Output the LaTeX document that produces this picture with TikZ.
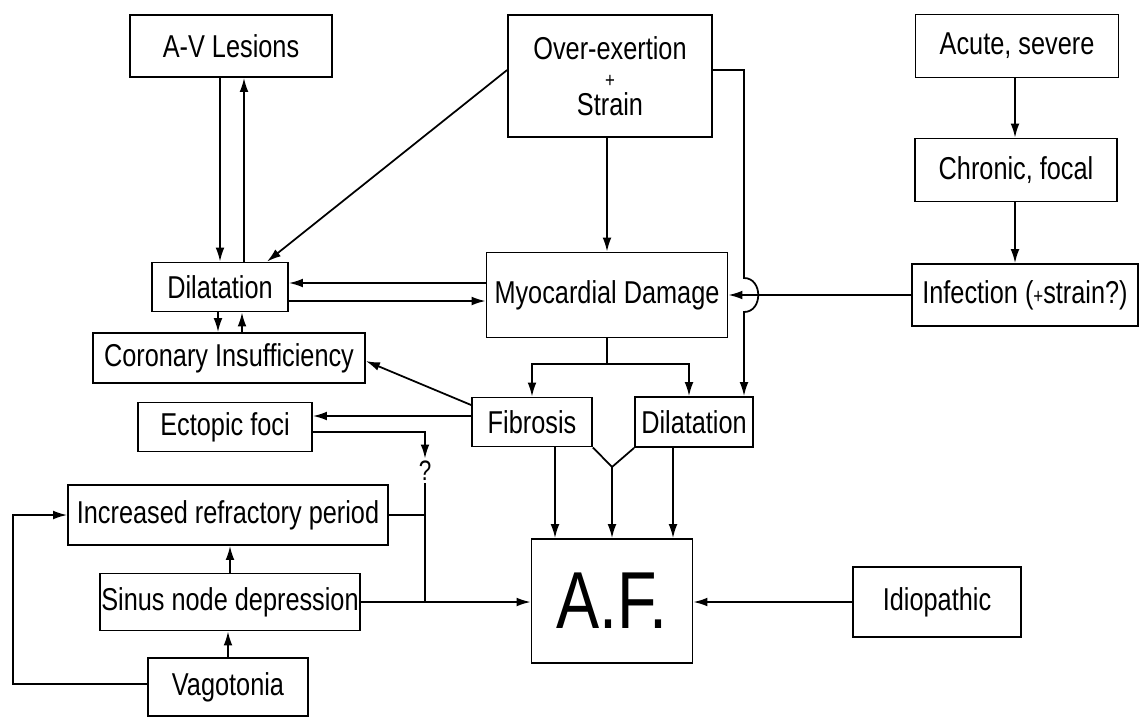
\documentclass[tikz,border=0pt]{standalone}
\usepackage{fontspec}
\setmainfont{Liberation Sans}[FakeStretch=0.8]
\usetikzlibrary{arrows.meta}

\begin{document}
\begin{tikzpicture}[x=0.02cm,y=-0.02cm,
  line width=1pt, >={Latex[length=8pt,width=5pt]},
  box/.style={draw, inner sep=0pt, align=center, font=\fontsize{18}{16}\selectfont}]
\useasboundingbox (0,0) rectangle (1141,718);

% causes on top
\node[box, minimum width=4.04cm, minimum height=1.24cm] (av) at (231,46) {A-V Lesions};
\node[box, minimum width=4.08cm, minimum height=2.44cm] (over) at (610,76) {Over-exertion\\{\fontsize{12}{12}\selectfont +}\\Strain};
\node[box, minimum width=4.06cm, minimum height=1.26cm] (acute) at (1017,46) {Acute, severe};
\node[box, minimum width=4.04cm, minimum height=1.26cm] (chronic) at (1016,170) {Chronic, focal};
\node[box, minimum width=4.52cm, minimum height=1.24cm] (infect) at (1025,295) {Infection ({\fontsize{12}{12}\selectfont +}strain?)};

% middle row
\node[box, minimum width=2.72cm, minimum height=0.98cm] (dilL) at (220,287) {Dilatation};
\node[box, minimum width=4.82cm, minimum height=1.70cm] (myo) at (607,295) {Myocardial Damage};
\node[box, minimum width=5.44cm, minimum height=1.00cm] (coron) at (229,358) {Coronary Insufficiency};
\node[box, minimum width=3.48cm, minimum height=0.98cm] (ectopic) at (225,427) {Ectopic foci};
\node[box, minimum width=2.40cm, minimum height=0.98cm] (fib) at (532,422) {Fibrosis};
\node[box, minimum width=2.36cm, minimum height=1.00cm] (dilR) at (694,422) {Dilatation};
\node[font=\fontsize{16}{16}\selectfont, inner sep=1pt] (q) at (425,471) {?};

% bottom
\node[box, minimum width=6.40cm, minimum height=1.20cm] (incr) at (228,515) {Increased refractory period};
\node[box, minimum width=5.20cm, minimum height=1.14cm] (sinus) at (230,602) {Sinus node depression};
\node[box, minimum width=3.20cm, minimum height=1.16cm] (vago) at (228,687) {Vagotonia};
\node[box, minimum width=3.22cm, minimum height=2.48cm, font=\fontsize{46}{46}\selectfont] (af) at (612,601) {A.F.};
\node[box, minimum width=3.36cm, minimum height=1.40cm] (idio) at (937,602) {Idiopathic};

% connectors
\draw[->] (av.south -| 220,0) -- (dilL.north -| 220,0);
\draw[->] (dilL.north -| 244,0) -- (av.south -| 244,0);
\draw[->] (over.west |- 0,70) -- (dilL.north -| 267,0);
\draw[->] (over.south -| myo.north) -- (myo.north);
\draw[->] (over.east |- 0,70) -- (744,70) -- (744,278)
  .. controls (763,278) and (763,312) .. (744,312) -- (dilR.north -| 744,0);
\draw[->] (acute.south -| 1015,0) -- (chronic.north -| 1015,0);
\draw[->] (chronic.south -| 1015,0) -- (infect.north -| 1015,0);
\draw[->] (infect.west) -- (infect.west -| myo.east);
\draw[->] (myo.west |- 0,283) -- (dilL.east |- 0,283);
\draw[->] (dilL.east |- 0,301) -- (myo.west |- 0,301);
\draw[->] (dilL.south -| 218,0) -- (coron.north -| 218,0);
\draw[->] (coron.north -| 242,0) -- (dilL.south -| 242,0);
\draw (myo.south) -- (myo.south |- 0,364) coordinate (split);
\draw[->] (split) -| (fib.north);
\draw[->] (split) -| (dilR.north -| 689,0);
\draw[->] (fib.west |- 0,405) -- (coron.east |- 0,361);
\draw[->] (fib.west |- 0,416) -- (ectopic.east |- 0,416);
\draw[->] (ectopic.east |- 0,432) -| (q.north);
\draw (q.south) -- (q.south |- sinus.east);
\draw (incr.east) -- (incr.east -| q);
\draw[->] (sinus.east) -- (sinus.east -| af.west);
\draw[->] (idio.west) -- (idio.west -| af.east);
\draw[->] (fib.south -| 555,0) -- (af.north -| 555,0);
\draw[->] (dilR.south -| 673,0) -- (af.north -| 673,0);
\draw (fib.south east) -- (612,467) coordinate (merge) -- (dilR.south west);
\draw[->] (merge) -- (af.north -| merge);
\draw[->] (sinus.north) -- (incr.south -| sinus.north);
\draw[->] (vago.north) -- (sinus.south -| vago.north);
\draw[->] (vago.west |- 0,684) -| (13,515) -- (incr.west);
\end{tikzpicture}
\end{document}
